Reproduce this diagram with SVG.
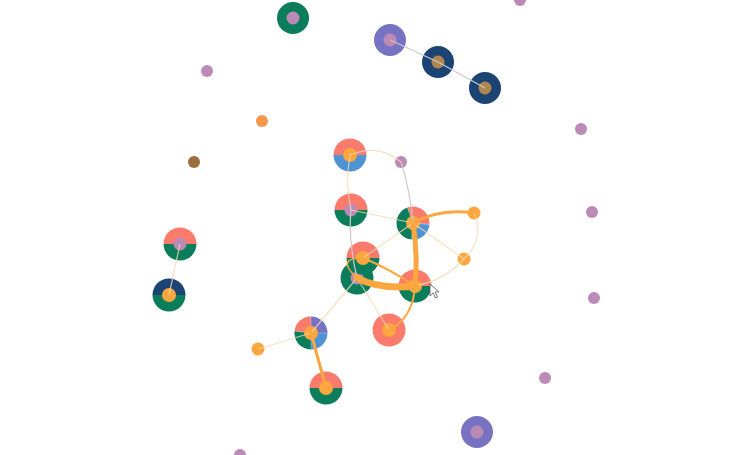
<svg xmlns="http://www.w3.org/2000/svg" width="751" height="455" viewBox="0 0 751 455">
<style>
.red{fill:#fa7a6c}.grn{fill:#0b7d5b}.blu{fill:#4e94d4}.nav{fill:#1b4374}.pur{fill:#7872c2}
.pink{fill:#bb8ab6}.org{fill:#fba63e}.brn{fill:#b08650}.brn2{fill:#9c6d3c}.org2{fill:#f8964c}
.sep{stroke:#ffffff;stroke-opacity:0.35;stroke-width:0.8;fill:none}
.thin{fill:none;stroke:#f3d9b0;stroke-width:1.2;stroke-opacity:0.8}
.grey{fill:none;stroke:#cfc9cf;stroke-width:1.2}
.oe{fill:none;stroke:#fba63e;stroke-linecap:round}
</style>
<rect width="751" height="455" fill="#ffffff"/>
<g id="nodes">
<g id="n1"><circle cx="293" cy="18" r="16" class="grn"/><circle cx="293" cy="18" r="6.5" class="pink"/></g>
<g id="n2"><circle cx="390" cy="40" r="16" class="pur"/><circle cx="390" cy="40" r="6.5" class="pink"/></g>
<g id="n3"><circle cx="438" cy="62" r="16" class="nav"/><circle cx="438" cy="62" r="6.5" class="brn"/></g>
<g id="n4"><circle cx="485" cy="88" r="16" class="nav"/><circle cx="485" cy="88" r="6.5" class="brn"/></g>
<g id="n5"><circle cx="520" cy="0" r="6" class="pink"/></g>
<g id="n6"><circle cx="207" cy="71" r="6" class="pink"/></g>
<g id="n7"><circle cx="262" cy="121" r="6" class="org2"/></g>
<g id="n8"><circle cx="194" cy="162" r="6" class="brn2"/></g>
<g id="n9"><circle cx="581" cy="129" r="6" class="pink"/></g>
<g id="n10"><circle cx="592" cy="212" r="6" class="pink"/></g>
<g id="n11"><circle cx="594" cy="298" r="6" class="pink"/></g>
<g id="n12"><circle cx="545" cy="378" r="6" class="pink"/></g>
<g id="n13"><circle cx="477" cy="432" r="16" class="pur"/><circle cx="477" cy="432" r="6.5" class="pink"/></g>
<g id="n14"><circle cx="240" cy="455" r="6" class="pink"/></g>
<g id="n15"><path class="red" d="M333.5,155 A16.5,16.5 0 0 1 366.5,155 Z"/><path class="blu" d="M366.5,155 A16.5,16.5 0 0 1 333.5,155 Z"/><circle cx="350" cy="155" r="7" class="org"/></g>
<g id="n16"><circle cx="401" cy="162" r="6" class="pink"/></g>
<g id="n17"><path class="red" d="M334.5,210 A16.5,16.5 0 0 1 367.5,210 Z"/><path class="grn" d="M367.5,210 A16.5,16.5 0 0 1 334.5,210 Z"/><circle cx="351" cy="210" r="6.5" class="pink"/></g>
<g id="n18"><path class="red" d="M413,223 L407.36,207.49 A16.5,16.5 0 0 1 429.43,224.44 Z"/><path class="blu" d="M413,223 L429.43,224.44 A16.5,16.5 0 0 1 411.56,239.43 Z"/><path class="grn" d="M413,223 L411.56,239.43 A16.5,16.5 0 0 1 407.36,207.49 Z"/><path class="sep" d="M413,223 L407.36,207.49 M413,223 L429.43,224.44 M413,223 L411.56,239.43"/><circle cx="413" cy="223" r="7" class="org"/></g>
<g id="n19"><circle cx="474" cy="213" r="6.5" class="org"/></g>
<g id="n20"><circle cx="464" cy="259" r="6.5" class="org"/></g>
<g id="n21"><path class="red" d="M163.5,244 A16.5,16.5 0 0 1 196.5,244 Z"/><path class="grn" d="M196.5,244 A16.5,16.5 0 0 1 163.5,244 Z"/><circle cx="180" cy="244" r="6.5" class="pink"/></g>
<g id="n22"><path class="nav" d="M152.5,295 A16.5,16.5 0 0 1 185.5,295 Z"/><path class="grn" d="M185.5,295 A16.5,16.5 0 0 1 152.5,295 Z"/><circle cx="169" cy="295" r="7" class="org"/></g>
<g id="n24"><circle cx="357" cy="278" r="16.5" class="grn"/><circle cx="357" cy="278" r="6.5" class="pink"/></g>
<g id="n23"><path class="red" d="M346.5,258 A16.5,16.5 0 0 1 379.5,258 Z"/><path class="grn" d="M379.5,258 A16.5,16.5 0 0 1 346.5,258 Z"/><circle cx="363" cy="258" r="7" class="org"/></g>
<g id="n25"><path class="red" d="M398.5,286 A16.5,16.5 0 0 1 431.5,286 Z"/><path class="grn" d="M431.5,286 A16.5,16.5 0 0 1 398.5,286 Z"/><circle cx="415" cy="286" r="7" class="org"/></g>
<g id="n26"><circle cx="389" cy="330" r="16.5" class="red"/><circle cx="389" cy="330" r="7" class="org"/></g>
<g id="n27"><path class="red" d="M311,333 L294.5,331 A16.5,16.5 0 0 1 311,316.5 Z"/><path class="pur" d="M311,333 L311,316.5 A16.5,16.5 0 0 1 327.5,333 Z"/><path class="blu" d="M311,333 L327.5,333 A16.5,16.5 0 0 1 311,349.5 Z"/><path class="grn" d="M311,333 L311,349.5 A16.5,16.5 0 0 1 294.5,331 Z"/><path class="sep" d="M311,333 L294.5,331 M311,333 L311,316.5 M311,333 L327.5,333 M311,333 L311,349.5"/><circle cx="311" cy="333" r="7" class="org"/></g>
<g id="n28"><circle cx="258" cy="349" r="6.5" class="org"/></g>
<g id="n29"><path class="red" d="M309.5,388 A16.5,16.5 0 0 1 342.5,388 Z"/><path class="grn" d="M342.5,388 A16.5,16.5 0 0 1 309.5,388 Z"/><circle cx="326" cy="388" r="7" class="org"/></g>
</g>
<g id="connectors">
<path class="grey" d="M390,40 L438,62 L485,88"/>
<path class="thin" d="M350,155 Q378,143 401,162"/>
<path class="thin" d="M350,155 Q345,183 351,210"/>
<path class="grey" d="M401,162 Q410,190 413,223"/>
<path class="thin" d="M351,210 L413,223"/>
<path class="grey" d="M351,210 Q348,240 357,278"/>
<path class="thin" d="M413,223 L363,258"/>
<path class="thin" d="M413,223 L464,259"/>
<path class="thin" d="M474,213 Q485,238 464,259"/>
<path class="thin" d="M464,259 Q445,280 415,286"/>
<path class="thin" d="M180,244 L169,295"/>
<path class="thin" d="M311,333 L258,349"/>
<path class="thin" d="M311,333 L357,278"/>
<path class="thin" d="M357,278 L389,330"/>
<path class="oe" stroke-width="2" d="M363,258 Q388,268 415,286"/>
<path class="oe" stroke-width="1.5" d="M363,258 Q335,258 357,278"/>
<path class="oe" stroke-width="3" d="M413,223 Q440,208 474,213"/>
<path class="oe" stroke-width="2" d="M415,286 Q413,318 389,330"/>
<path class="oe" stroke-width="3" d="M311,333 L326,388"/>
<path class="oe" stroke-width="5" d="M413,223 Q418,255 415,286"/>
<path class="oe" stroke-width="7" d="M357,278 Q380,290 415,286"/>
</g>
<path d="M430,284 L430,296 L433,293 L435.5,298 L437.5,297 L435,292 L439,292 Z" fill="#ffffff" stroke="#555" stroke-width="0.8" stroke-linejoin="round"/>
</svg>
